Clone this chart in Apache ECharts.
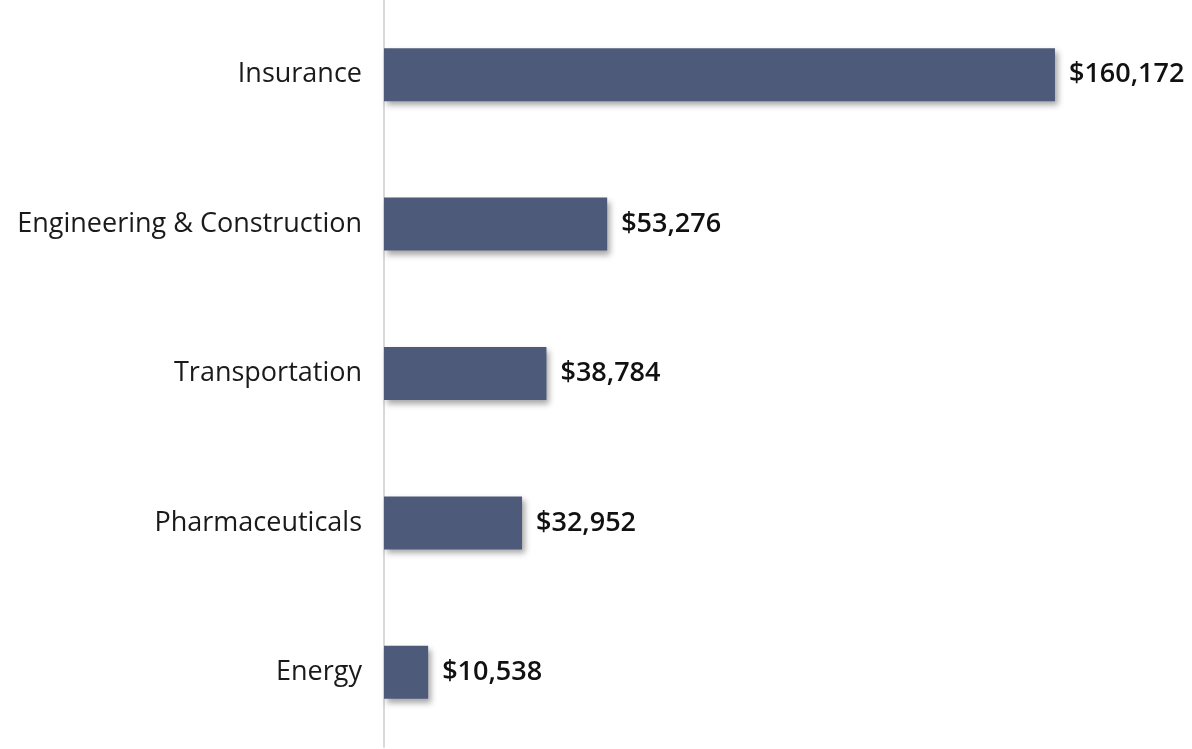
<!DOCTYPE html>
<html>
<head>
<meta charset="utf-8">
<script src="https://cdn.jsdelivr.net/npm/echarts@6/dist/echarts.min.js"></script>
<style>
  html, body { margin: 0; padding: 0; background: #fff; }
  #chart { width: 1192px; height: 749px; }
</style>
</head>
<body>
<div id="chart"></div>
<script>
// categories top to bottom
const categories = ['Insurance', 'Engineering & Construction', 'Transportation', 'Pharmaceuticals', 'Energy'];
const values = [160172, 53276, 38784, 32952, 10538];

const chart = echarts.init(document.getElementById('chart'), null, { renderer: 'canvas' });

const option = {
    animation: false,
    grid: {
        left: 384,
        right: 0,
        top: -3,
        bottom: 2
    },
    xAxis: {
        type: 'value',
        min: 0,
        max: 192880,
        show: false
    },
    yAxis: {
        type: 'category',
        inverse: true,
        data: categories,
        axisLine: {
            show: true,
            lineStyle: { color: '#d9d9d9', width: 2 }
        },
        axisTick: { show: false },
        axisLabel: {
            margin: 22,
            color: '#1a1a1a',
            fontFamily: 'Open Sans',
            fontSize: 27
        }
    },
    series: [{
        type: 'bar',
        data: values,
        barWidth: 53,
        itemStyle: {
            color: '#4e5a7a',
            shadowColor: 'rgba(0,0,0,0.35)',
            shadowBlur: 6,
            shadowOffsetX: 3,
            shadowOffsetY: 4
        },
        label: {
            show: true,
            position: 'right',
            distance: 14,
            color: '#111',
            fontFamily: 'Open Sans',
            fontWeight: 600,
            fontSize: 27,
            formatter: (p) => '$' + p.value.toLocaleString('en-US')
        }
    }]
};

chart.setOption(option);
</script>
</body>
</html>
